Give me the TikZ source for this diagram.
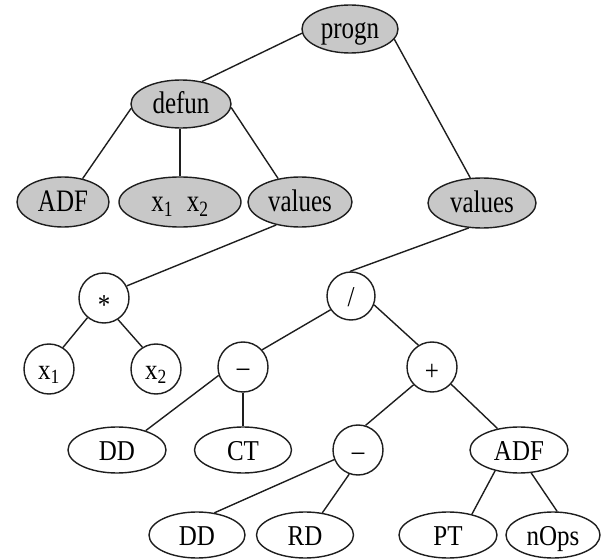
\documentclass[tikz,border=0pt]{standalone}
\usepackage{fontspec}
\usepackage{graphicx}
\setmainfont{Liberation Serif}
\usetikzlibrary{shapes.geometric}
\definecolor{gfill}{RGB}{200,200,200}
\definecolor{ink}{RGB}{30,30,30}
\tikzset{
  base/.style={draw=ink, line width=1.4pt, inner sep=0pt, text height=24pt, text depth=4pt,
    font=\fontsize{25}{30}\selectfont},
  gnode/.style={base, ellipse, fill=gfill, minimum height=50pt},
  wnode/.style={base, ellipse, fill=white, minimum height=46pt},
  cnode/.style={base, circle, fill=white, minimum size=50pt},
  edge/.style={draw=ink, line width=1.4pt}
}
\newcommand{\T}[1]{\scalebox{1}[1.25]{#1}}
\newcommand{\W}[1]{\scalebox{1}[1.15]{#1}}
\newcommand{\xs}[1]{x\textsubscript{#1}}
\begin{document}
\begin{tikzpicture}[x=1pt,y=-1pt]
\useasboundingbox (0,0) rectangle (606,559);
% gray nodes
\node[gnode, minimum width=96pt, minimum height=48pt] (progn) at (350,29) {\T{progn}};
\node[gnode, minimum width=100pt, minimum height=48pt] (defun) at (181,104) {\T{defun}};
\node[gnode, minimum width=92pt] (adfg) at (63,202) {\T{ADF}};
\node[gnode, minimum width=122pt] (x12) at (180,202) {\T{\xs{1}\hspace{0.55em}\xs{2}}};
\node[gnode, minimum width=104pt] (valL) at (300,202) {\T{values}};
\node[gnode, minimum width=108pt] (valR) at (482,203) {\T{values}};
% circles
\node[cnode] (star) at (104,298) {\raisebox{-7pt}{\W{*}}};
\node[cnode, minimum size=48pt] (slash) at (351,296) {\W{/}};
\node[cnode] (x1) at (49,369) {\W{\xs{1}}};
\node[cnode] (x2) at (156,369) {\W{\xs{2}}};
\node[cnode] (minA) at (243,367) {\W{–}};
\node[cnode] (plus) at (432,367) {\raisebox{-3pt}{\W{+}}};
\node[cnode] (minB) at (358,450) {\W{–}};
% white ellipses
\node[wnode, minimum width=98pt] (dd1) at (117,450) {\W{DD}};
\node[wnode, minimum width=97pt] (ct) at (243,450) {\W{CT}};
\node[wnode, minimum width=98pt] (adfw) at (519,450) {\W{ADF}};
\node[wnode, minimum width=96pt] (dd2) at (197,535) {\W{DD}};
\node[wnode, minimum width=97pt] (rd) at (305,535) {\W{RD}};
\node[wnode, minimum width=98pt] (pt) at (448,535) {\W{PT}};
\node[wnode, minimum width=94pt] (nops) at (553,535) {\W{nOps}};
% connectors
\draw[edge] (progn.185) -- (defun.47);
\draw[edge] (progn.347) -- (valR.115);
\draw[edge] (defun.185) -- (adfg.50);
\draw[edge] (x12.north) -- (x12.north |- defun.south);
\draw[edge] (defun.356) -- (valL.133);
\draw[edge] (valL.224) -- (star.28);
\draw[edge] (valR.242) -- (slash.92);
\draw[edge] (star.230) -- (x1.57);
\draw[edge] (star.303) -- (x2.122);
\draw[edge] (slash.214) -- (minA.42);
\draw[edge] (slash.339) -- (plus.122);
\draw[edge] (minA.199) -- (dd1.34);
\draw[edge] (minA.south) -- (ct.north);
\draw[edge] (plus.224) -- (minB.73);
\draw[edge] (plus.318) -- (adfw.135);
\draw[edge] (minB.202) -- (dd2.52);
\draw[edge] (minB.250) -- (rd.52);
\draw[edge] (adfw.221) -- (pt.41);
\draw[edge] (adfw.298) -- (nops.80);
\end{tikzpicture}
\end{document}
